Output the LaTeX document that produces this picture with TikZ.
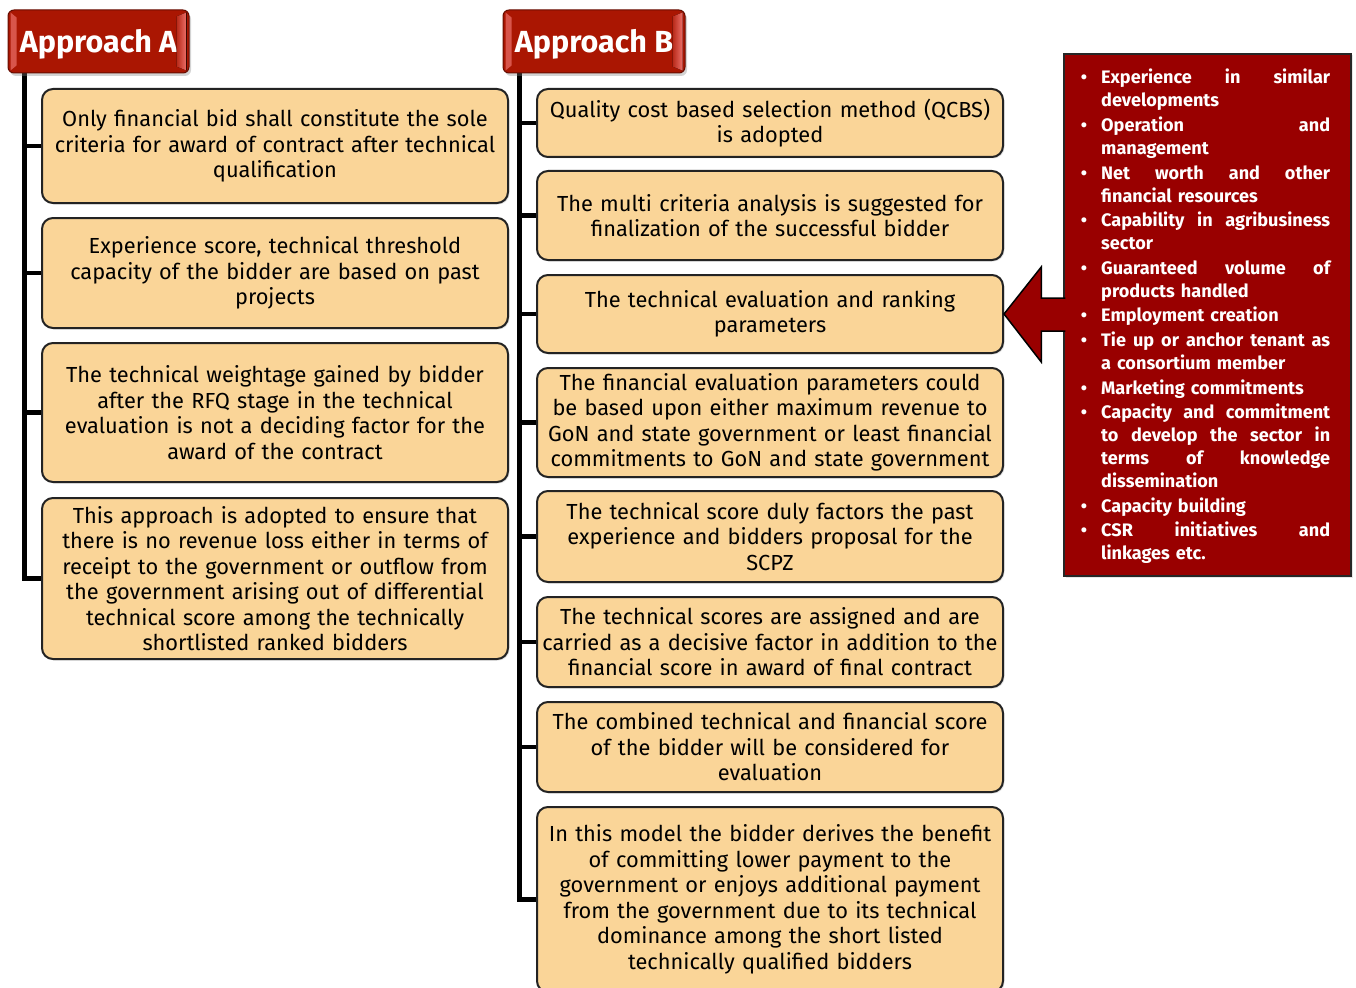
\documentclass[tikz,border=0pt]{standalone}
\usepackage{fontspec}
\setmainfont{Fira Sans}
\usetikzlibrary{calc,shadows,backgrounds}

\definecolor{hdrred}{RGB}{170,22,2}
\definecolor{hdrlight}{RGB}{236,112,106}
\definecolor{panelred}{RGB}{153,0,0}
\definecolor{boxfill}{RGB}{250,213,152}
\definecolor{boxline}{RGB}{35,35,35}

% a justified line of the criteria list: words separated by \hfill
\newcommand\jline[1]{\leavevmode\hbox to 229pt{#1}}
% bullet hung in the left margin of the list
\newcommand\bul{\leavevmode\llap{\textbullet\hspace{14pt}}}

\begin{document}
\begin{tikzpicture}[x=1pt,y=-1pt,
  hdr/.style={draw=hdrred!60!black, line width=1pt, fill=hdrred,
    rounded corners=6pt, minimum height=63pt, inner sep=0pt,
    text height=23pt, text depth=0pt,
    text=white, font=\bfseries\fontsize{30.5}{31}\selectfont,
    drop shadow={shadow xshift=2pt, shadow yshift=-3pt, opacity=.35}},
  bevel/.style={left color=hdrred!80!hdrlight, right color=hdrlight},
  itembox/.style={draw=boxline, line width=2pt, fill=boxfill,
    rounded corners=11pt, minimum width=466pt, text width=462pt,
    align=center, inner sep=0pt,
    font=\fontsize{21.8}{25.5}\selectfont,
    drop shadow={shadow xshift=1.5pt, shadow yshift=-1.5pt, opacity=.2}},
  trunk/.style={line width=4.5pt, black},
  bigarrow/.style={draw=black, line width=1.5pt, fill=panelred, line join=miter}]

\useasboundingbox (0,0) rectangle (1356,987);

% headers
\node[hdr, minimum width=181pt] (hdrA) at (98.5,41.5) {Approach A};
\node[hdr, minimum width=182pt] (hdrB) at (594,41.5) {Approach B};
\foreach \h in {hdrA,hdrB} {
  \fill[bevel] ($(\h.north east)+(-13,7)$) -- ($(\h.north east)+(-3,3)$)
    -- ($(\h.south east)+(-3,-3)$) -- ($(\h.south east)+(-13,-7)$) -- cycle;
  \fill[hdrlight!70!hdrred] ($(\h.north west)+(3,3)$) -- ($(\h.north west)+(9,8)$)
    -- ($(\h.south west)+(9,-8)$) -- ($(\h.south west)+(3,-3)$) -- cycle;
}

% Approach A
\node[itembox, minimum height=114pt] (a1) at (275,146)
  {Only financial bid shall constitute the sole\\criteria for award of contract after technical\\qualification};
\node[itembox, minimum height=110pt] (a2) at (275,273)
  {Experience score, technical threshold\\capacity of the bidder are based on past\\projects};
\node[itembox, minimum height=139pt] (a3) at (275,412.5)
  {The technical weightage gained by bidder\\after the RFQ stage in the technical\\evaluation is not a deciding factor for the\\award of the contract};
\node[itembox, minimum height=161pt] (a4) at (275,578.5)
  {This approach is adopted to ensure that\\there is no revenue loss either in terms of\\receipt to the government or outflow from\\the government arising out of differential\\technical score among the technically\\shortlisted ranked bidders};

% Approach B
\node[itembox, minimum height=68pt] (b1) at (770,123)
  {Quality cost based selection method (QCBS)\\is adopted};
\node[itembox, minimum height=89pt] (b2) at (770,215.5)
  {The multi criteria analysis is suggested for\\finalization of the successful bidder};
\node[itembox, minimum height=78pt] (b3) at (770,314)
  {The technical evaluation and ranking\\parameters};
\node[itembox, minimum height=109pt] (b4) at (770,422.5)
  {The financial evaluation parameters could\\be based upon either maximum revenue to\\GoN and state government or least financial\\commitments to GoN and state government};
\node[itembox, minimum height=91pt] (b5) at (770,536.5)
  {The technical score duly factors the past\\experience and bidders proposal for the\\SCPZ};
\node[itembox, minimum height=90pt] (b6) at (770,642)
  {The technical scores are assigned and are\\carried as a decisive factor in addition to the\\financial score in award of final contract};
\node[itembox, minimum height=90pt] (b7) at (770,747)
  {The combined technical and financial score\\of the bidder will be considered for\\evaluation};
\node[itembox, minimum height=185pt] (b8) at (770,899.5)
  {In this model the bidder derives the benefit\\of committing lower payment to the\\government or enjoys additional payment\\from the government due to its technical\\dominance among the short listed\\technically qualified bidders};

% tree lines
\coordinate (ta) at ($(hdrA.south west)+(17,0)$);
\coordinate (tb) at ($(hdrB.south west)+(17,0)$);
\begin{scope}[on background layer]
  \draw[trunk] (ta) |- (a4.west);
  \foreach \n in {a1,a2,a3} \draw[trunk] (\n.west) -- (\n.west -| ta);
  \draw[trunk] (tb) |- (b8.west);
  \foreach \n in {b1,b2,b3,b4,b5,b6,b7} \draw[trunk] (\n.west) -- (\n.west -| tb);
\end{scope}

% evaluation criteria panel
\node[draw=black!85, line width=1.5pt, fill=panelred, minimum width=287pt,
  minimum height=522pt, inner sep=0pt,
  drop shadow={shadow xshift=1.5pt, shadow yshift=-1.5pt, opacity=.2}] (panel) at (1207.5,315) {};
\node[anchor=north west, text width=229pt, inner sep=0pt, align=left,
  text=white, font=\bfseries\fontsize{18.1}{23}\selectfont] (plist) at (1101,69) {%
  \bul\jline{Experience\hfill in\hfill similar}\\ developments\\[1.6pt]
  \bul\jline{Operation\hfill and}\\ management\\[1.6pt]
  \bul\jline{Net\hfill worth\hfill and\hfill other}\\ financial resources\\[1.6pt]
  \bul\jline{Capability\hfill in\hfill agribusiness}\\ sector\\[1.6pt]
  \bul\jline{Guaranteed\hfill volume\hfill of}\\ products handled\\[1.6pt]
  \bul Employment creation\\[1.6pt]
  \bul\jline{Tie\hfill up\hfill or\hfill anchor\hfill tenant\hfill as}\\ a consortium member\\[1.6pt]
  \bul Marketing commitments\\[1.6pt]
  \bul\jline{Capacity\hfill and\hfill commitment}\\
    \jline{to\hfill develop\hfill the\hfill sector\hfill in}\\
    \jline{terms\hfill of\hfill knowledge}\\ dissemination\\[1.6pt]
  \bul Capacity building\\[1.6pt]
  \bul\jline{CSR\hfill initiatives\hfill and}\\ linkages etc.};

% block arrow from the panel to the technical parameters box
\draw[bigarrow] ($(panel.west)+(2,-17)$) -- ++(-24,0) -- ++(0,-31)
  -- (b3.east) -- ($(panel.west)+(-22,47)$) -- ++(0,-31) -- ++(24,0);

\end{tikzpicture}
\end{document}
